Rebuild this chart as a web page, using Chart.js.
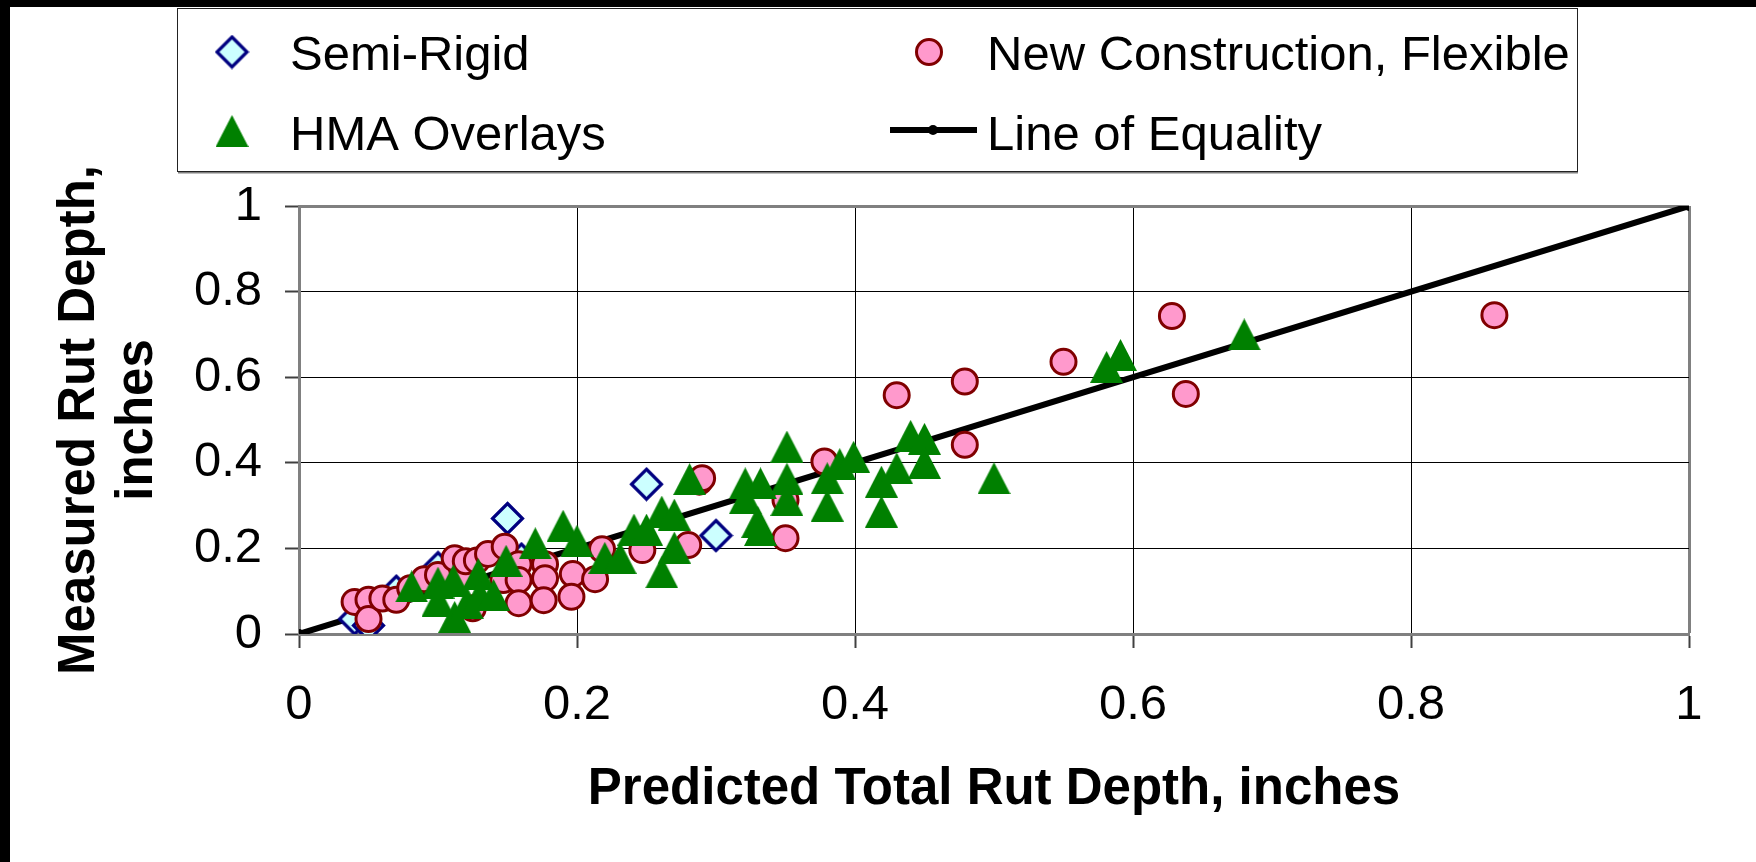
<!DOCTYPE html>
<html lang="en">
<head>
<meta charset="UTF-8">
<title>Measured vs Predicted Rut Depth</title>
<script src="https://cdn.jsdelivr.net/npm/chart.js"></script>
<style>
    html, body { margin: 0; padding: 0; background: #fff; }
    #wrap { position: relative; width: 1756px; height: 862px; }
</style>
</head>
<body>
<div id="wrap"><canvas id="chart" width="1756" height="862"></canvas></div>
<script>
// Predicted (x) vs measured (y) rut depth, inches
var semiRigidX = [0.04, 0.05, 0.07, 0.10, 0.16, 0.15, 0.25, 0.30];
var semiRigidY = [0.035, 0.02, 0.10, 0.155, 0.175, 0.27, 0.35, 0.23];

var flexibleX = [0.04, 0.05, 0.05, 0.06, 0.07, 0.08, 0.09, 0.10, 0.112, 0.118,
                 0.12, 0.125, 0.128, 0.136, 0.147, 0.148, 0.158, 0.158, 0.158, 0.177,
                 0.177, 0.176, 0.197, 0.196, 0.213, 0.218, 0.247, 0.28, 0.288, 0.29,
                 0.35, 0.35, 0.378, 0.43, 0.479, 0.479, 0.55, 0.628, 0.638, 0.86];
var flexibleY = [0.075, 0.08, 0.035, 0.083, 0.08, 0.107, 0.128, 0.138, 0.177, 0.134,
                 0.17, 0.06, 0.172, 0.187, 0.126, 0.204, 0.163, 0.126, 0.072, 0.163,
                 0.13, 0.079, 0.14, 0.087, 0.128, 0.198, 0.196, 0.208, 0.356, 0.364,
                 0.224, 0.313, 0.403, 0.558, 0.59, 0.442, 0.636, 0.743, 0.561, 0.745];

var overlayX = [0.081, 0.10, 0.111, 0.10, 0.112, 0.121, 0.129, 0.13, 0.14, 0.149,
                0.17, 0.19, 0.20, 0.22, 0.231, 0.241, 0.25, 0.261, 0.27, 0.261,
                0.27, 0.281, 0.321, 0.332, 0.321, 0.33, 0.332, 0.351, 0.351, 0.351,
                0.38, 0.38, 0.389, 0.399, 0.419, 0.419, 0.43, 0.44, 0.45, 0.45,
                0.50, 0.581, 0.591, 0.68];
var overlayY = [0.111, 0.12, 0.125, 0.078, 0.04, 0.072, 0.14, 0.091, 0.091, 0.171,
                0.212, 0.253, 0.218, 0.178, 0.178, 0.244, 0.244, 0.286, 0.279, 0.144,
                0.202, 0.362, 0.352, 0.352, 0.317, 0.262, 0.243, 0.438, 0.363, 0.313,
                0.364, 0.30, 0.397, 0.414, 0.356, 0.286, 0.387, 0.463, 0.456, 0.40,
                0.364, 0.624, 0.652, 0.70];

var equalityX = [0, 1];
var equalityY = [0, 1];

var tickValues = [0, 0.2, 0.4, 0.6, 0.8, 1];
var tickLabels = ['0', '0.2', '0.4', '0.6', '0.8', '1'];
var seriesNames = ['Semi-Rigid', 'New Construction, Flexible', 'HMA Overlays', 'Line of Equality'];

var FONT = "'Liberation Sans', Arial, sans-serif";
Chart.defaults.font.family = FONT;
Chart.defaults.color = '#000';

function pairs(xs, ys) {
    return xs.map(function (x, i) { return { x: x, y: ys[i] }; });
}

// marker images (Excel style diamond and triangle)
function diamondMarker(size) {
    var c = document.createElement('canvas');
    c.width = size; c.height = size;
    var g = c.getContext('2d');
    var h = size / 2, r = h - 2.5;
    g.beginPath();
    g.moveTo(h, h - r); g.lineTo(h + r, h); g.lineTo(h, h + r); g.lineTo(h - r, h);
    g.closePath();
    g.fillStyle = '#ccffff';
    g.fill();
    g.lineWidth = 3.2;
    g.strokeStyle = '#000080';
    g.stroke();
    return c;
}

function triangleMarker(w, h) {
    var c = document.createElement('canvas');
    c.width = w; c.height = h;
    var g = c.getContext('2d');
    g.beginPath();
    g.moveTo(w / 2, 0); g.lineTo(w, h); g.lineTo(0, h);
    g.closePath();
    g.fillStyle = '#008000';
    g.fill();
    return c;
}

var diamondImg = diamondMarker(35);
var triangleImg = triangleMarker(33, 32);

// white page with the dark frame on the top and left edges
var pageBackground = {
    id: 'pageBackground',
    beforeDraw: function (chart) {
        var ctx = chart.ctx;
        ctx.save();
        ctx.fillStyle = '#fff';
        ctx.fillRect(0, 0, chart.width, chart.height);
        ctx.fillStyle = '#000';
        ctx.fillRect(0, 0, chart.width, 7);
        ctx.fillRect(0, 0, 10, chart.height);
        ctx.restore();
    }
};

// two-column legend box above the plot
var legendBox = {
    id: 'legendBox',
    afterDraw: function (chart) {
        var ctx = chart.ctx;
        ctx.save();
        ctx.fillStyle = '#fff';
        ctx.fillRect(177, 8, 1400, 164);
        ctx.strokeStyle = '#808080';
        ctx.lineWidth = 2;
        ctx.beginPath(); ctx.moveTo(178, 172.5); ctx.lineTo(1578, 172.5); ctx.stroke();
        ctx.strokeStyle = '#222';
        ctx.lineWidth = 1;
        ctx.strokeRect(177.5, 8.5, 1400, 163);

        ctx.drawImage(diamondImg, 232 - 17.5, 52 - 17.5);
        ctx.drawImage(triangleImg, 232 - 16.5, 131 - 16);

        ctx.beginPath();
        ctx.arc(929, 52, 12.5, 0, Math.PI * 2);
        ctx.fillStyle = '#ff99cc';
        ctx.fill();
        ctx.lineWidth = 3;
        ctx.strokeStyle = '#800000';
        ctx.stroke();

        ctx.beginPath();
        ctx.moveTo(890, 130); ctx.lineTo(977, 130);
        ctx.lineWidth = 6;
        ctx.strokeStyle = '#000';
        ctx.stroke();
        ctx.beginPath();
        ctx.arc(933, 130, 5, 0, Math.PI * 2);
        ctx.fillStyle = '#000';
        ctx.fill();

        ctx.fillStyle = '#000';
        ctx.font = '49px ' + FONT;
        ctx.textAlign = 'left';
        ctx.textBaseline = 'alphabetic';
        ctx.fillText(seriesNames[0], 290, 70);
        ctx.fillText(seriesNames[1], 987, 70);
        ctx.fillText(seriesNames[2], 290, 150);
        ctx.fillText(seriesNames[3], 987, 150);
        ctx.restore();
    }
};

function gridColor(c) {
    return c.tick && c.tick.value === 1 ? '#808080' : '#000';
}
function gridWidth(c) {
    return c.tick && c.tick.value === 1 ? 3 : 1;
}
function fixedTicks(scale) {
    scale.ticks = tickValues.map(function (v) { return { value: v }; });
}
function tickText(value, index) {
    return tickLabels[index];
}

var ctx = document.getElementById('chart').getContext('2d');
var chart = new Chart(ctx, {
    type: 'scatter',
    data: {
        datasets: [{
            label: seriesNames[0],
            data: pairs(semiRigidX, semiRigidY),
            pointStyle: diamondImg,
            pointRadius: 17,
            order: 3
        }, {
            label: seriesNames[1],
            data: pairs(flexibleX, flexibleY),
            pointStyle: 'circle',
            pointRadius: 12.5,
            pointBorderWidth: 3,
            backgroundColor: '#ff99cc',
            borderColor: '#800000',
            order: 2
        }, {
            label: seriesNames[2],
            data: pairs(overlayX, overlayY),
            pointStyle: triangleImg,
            pointRadius: 16,
            order: 1
        }, {
            label: seriesNames[3],
            data: pairs(equalityX, equalityY),
            showLine: true,
            borderColor: '#000',
            borderWidth: 6,
            pointRadius: 5,
            pointBorderWidth: 0,
            backgroundColor: '#000',
            order: 4
        }]
    },
    options: {
        responsive: false,
        animation: false,
        devicePixelRatio: 1,
        events: [],
        layout: { padding: { top: 206, right: 67, bottom: 0, left: 0 } },
        plugins: {
            legend: { display: false },
            tooltip: { enabled: false }
        },
        scales: {
            x: {
                type: 'linear',
                min: 0,
                max: 1,
                afterBuildTicks: fixedTicks,
                afterFit: function (s) { s.height = 228; },
                grid: { color: gridColor, lineWidth: gridWidth, tickLength: 14, tickColor: '#404040', tickWidth: 2 },
                border: { color: '#808080', width: 3 },
                ticks: { font: { size: 49 }, color: '#000', padding: 28, maxRotation: 0, callback: tickText },
                title: {
                    display: true,
                    text: 'Predicted Total Rut Depth, inches',
                    font: { size: 51, weight: 'bold', lineHeight: 1.16 },
                    color: '#000',
                    padding: { top: 0, bottom: 42 }
                }
            },
            y: {
                type: 'linear',
                min: 0,
                max: 1,
                afterBuildTicks: fixedTicks,
                afterFit: function (s) { s.width = 299; },
                grid: { color: gridColor, lineWidth: gridWidth, tickLength: 14, tickColor: '#404040', tickWidth: 2 },
                border: { color: '#808080', width: 3 },
                ticks: { font: { size: 49 }, color: '#000', padding: 23, callback: tickText },
                title: {
                    display: true,
                    text: ['Measured Rut Depth,', 'inches'],
                    font: { size: 51, weight: 'bold', lineHeight: 1.14 },
                    color: '#000',
                    padding: { top: 51, bottom: 0 }
                }
            }
        }
    },
    plugins: [pageBackground, legendBox]
});
</script>
</body>
</html>
